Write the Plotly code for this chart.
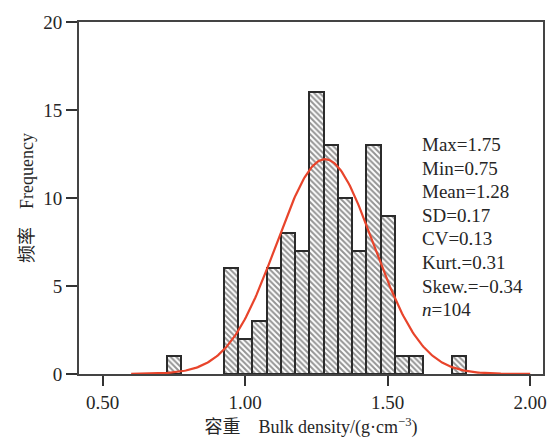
import numpy as np
import plotly.graph_objects as go

# Histogram bins (centres, g/cm^3) and counts
bin_centers = [0.75, 0.95, 1.00, 1.05, 1.10, 1.15, 1.20, 1.25, 1.30, 1.35,
               1.40, 1.45, 1.50, 1.55, 1.60, 1.75]
counts = [1, 6, 2, 3, 6, 8, 7, 16, 13, 10, 7, 13, 9, 1, 1, 1]
bin_width = 0.05

# Summary statistics shown on the chart
stats_labels = ["Max", "Min", "Mean", "SD", "CV", "Kurt.", "Skew.", "n"]
stats_values = ["1.75", "0.75", "1.28", "0.17", "0.13", "0.31", "−0.34", "104"]
mean_val = 1.28
sd_val = 0.17
n_val = 104

x_ticks = [0.5, 1.0, 1.5, 2.0]
x_tick_labels = ["0.50", "1.00", "1.50", "2.00"]
y_ticks = [0, 5, 10, 15, 20]

FONT = "Liberation Serif, Times New Roman, Noto Sans CJK SC, serif"
TXT = "#262626"

fig = go.Figure()
fig.add_trace(go.Bar(
    x=bin_centers, y=counts, width=bin_width,
    marker=dict(color="white",
                line=dict(color="#2b2b2b", width=2),
                pattern=dict(shape="\\", fgcolor="#2a2a2a", bgcolor="white",
                             size=4, solidity=0.5)),
    showlegend=False,
))

# fitted normal curve from the displayed mean / SD / n
xc = np.linspace(0.6, 2.0, 300)
yc = n_val * bin_width / (sd_val * np.sqrt(2 * np.pi)) * np.exp(-0.5 * ((xc - mean_val) / sd_val) ** 2)
fig.add_trace(go.Scatter(x=xc, y=yc, mode="lines",
                         line=dict(color="#E8442B", width=2.2),
                         showlegend=False))

y0 = 0.652
dy = 23.6 / 352
for i, (lab, val) in enumerate(zip(stats_labels, stats_values)):
    txt = f"<i>n</i>={val}" if lab == "n" else f"{lab}={val}"
    fig.add_annotation(x=1.612, y=y0 - i * dy, xref="x", yref="paper",
                       xanchor="left", yanchor="middle", align="left",
                       showarrow=False, text=txt,
                       font=dict(family=FONT, size=19, color=TXT))

fig.update_layout(
    width=551, height=439,
    margin=dict(l=79, r=8, t=22, b=65, autoexpand=False),
    paper_bgcolor="white", plot_bgcolor="white",
    font=dict(family=FONT, size=19, color=TXT),
    bargap=0,
)
fig.update_xaxes(range=[0.417, 2.045], tickvals=x_ticks, ticktext=x_tick_labels,
                 ticks="outside", ticklen=10, tickwidth=1.5, tickcolor="#333",
                 tickfont=dict(size=19), automargin=False,
                 showline=True, linecolor="#444", linewidth=1.8, mirror=True,
                 showgrid=False, zeroline=False,
                 title=dict(text="容重　Bulk density/(g·cm<sup>−3</sup>)",
                            font=dict(family=FONT, size=18), standoff=9))
fig.update_yaxes(range=[0, 20], tickvals=y_ticks,
                 ticks="outside", ticklen=11, tickwidth=1.5, tickcolor="#333",
                 tickfont=dict(size=19), automargin=False,
                 showline=True, linecolor="#444", linewidth=1.8, mirror=True,
                 showgrid=False, zeroline=False,
                 title=dict(text="频率　Frequency",
                            font=dict(family=FONT, size=18), standoff=5))

fig.write_html("out.html")
